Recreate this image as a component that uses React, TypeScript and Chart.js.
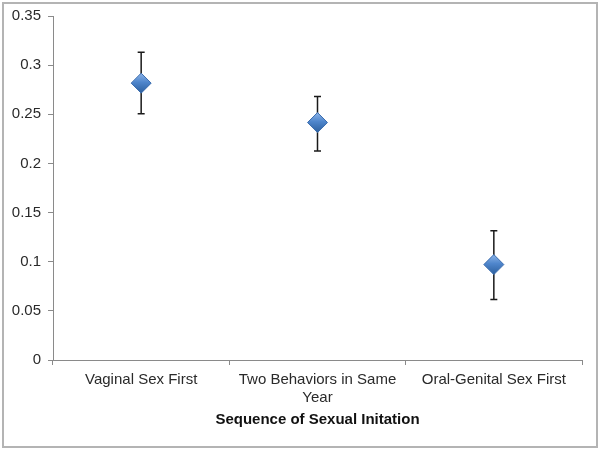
import React, { useEffect, useRef } from "react";
import { Chart, registerables } from "chart.js";

Chart.register(...registerables);

const categories: string[][] = [
  ["Vaginal Sex First"],
  ["Two Behaviors in Same", "Year"],
  ["Oral-Genital Sex First"],
];
const values: number[] = [0.2817, 0.2416, 0.0971];
const upperValues: number[] = [0.3132, 0.2681, 0.1316];
const lowerValues: number[] = [0.2506, 0.2127, 0.0616];
const yMin = 0;
const yMax = 0.35;
const yStep = 0.05;
const xTitle = "Sequence of Sexual Initation";

const FONT = "'Liberation Sans', Arial, sans-serif";

const errorBarPlugin = {
  id: "errorBars",
  beforeDatasetsDraw(chart: any) {
    const { ctx } = chart;
    const meta = chart.getDatasetMeta(0);
    const ys = chart.scales.y;
    ctx.save();
    ctx.strokeStyle = "#1a1a1a";
    ctx.lineWidth = 1.5;
    meta.data.forEach((pt: any, i: number) => {
      const x = pt.x;
      const yt = ys.getPixelForValue(upperValues[i]);
      const yb = ys.getPixelForValue(lowerValues[i]);
      ctx.beginPath();
      ctx.moveTo(x, yt);
      ctx.lineTo(x, yb);
      ctx.moveTo(x - 3.5, yt);
      ctx.lineTo(x + 3.5, yt);
      ctx.moveTo(x - 3.5, yb);
      ctx.lineTo(x + 3.5, yb);
      ctx.stroke();
    });
    ctx.restore();
  },
};

export default function App() {
  const ref = useRef<HTMLCanvasElement | null>(null);
  useEffect(() => {
    if (!ref.current) return;
    const chart = new Chart(ref.current, {
      type: "line",
      data: {
        labels: categories as any,
        datasets: [
          {
            data: values,
            showLine: false,
            pointStyle: "rectRot",
            pointRadius: 10,
            pointHoverRadius: 10,
            borderWidth: 1,
            pointBorderColor: "#3a6cae",
            pointBackgroundColor: (c: any) => {
              const chart = c.chart;
              const ys = chart.scales && chart.scales.y;
              if (!ys || !c.parsed) return "#4f81bd";
              const py = ys.getPixelForValue(c.parsed.y);
              if (!isFinite(py)) return "#4f81bd";
              const g = chart.ctx.createLinearGradient(0, py - 10, 0, py + 10);
              g.addColorStop(0, "#8db4e8");
              g.addColorStop(0.45, "#4f86cc");
              g.addColorStop(1, "#2c5f9e");
              return g;
            },
          } as any,
        ],
      },
      options: {
        animation: false,
        responsive: false,
        maintainAspectRatio: false,
        layout: { padding: { left: 0, right: 19, top: 15, bottom: 0 } },
        plugins: {
          legend: { display: false },
          tooltip: { enabled: false },
          title: { display: false },
        },
        scales: {
          x: {
            type: "category",
            offset: true,
            border: { display: true, color: "#8a8a8a", width: 1 },
            grid: {
              display: true,
              offset: true,
              drawOnChartArea: false,
              drawTicks: true,
              tickLength: 5,
              color: "#8a8a8a",
            },
            ticks: {
              padding: 6,
              color: "#2a2a2a",
              font: { family: FONT, size: 15 },
              maxRotation: 0,
              autoSkip: false,
            },
            title: {
              display: true,
              text: xTitle,
              color: "#111",
              font: { family: FONT, size: 15, weight: "bold" },
              padding: { top: 0, bottom: 23 },
            },
            afterFit: (s: any) => {
              s.height = 92;
            },
          },
          y: {
            min: yMin,
            max: yMax,
            border: { display: true, color: "#8a8a8a", width: 1 },
            grid: {
              display: true,
              drawOnChartArea: false,
              drawTicks: true,
              tickLength: 5,
              color: "#8a8a8a",
            },
            ticks: {
              stepSize: yStep,
              padding: 7,
              color: "#2a2a2a",
              font: { family: FONT, size: 15 },
              callback: (v: any) => String(Math.round(Number(v) * 100) / 100),
            },
            afterFit: (s: any) => {
              s.width = 53;
            },
          },
        },
      },
      plugins: [errorBarPlugin],
    });
    return () => chart.destroy();
  }, []);

  return (
    <div
      style={{
        position: "fixed",
        left: 0,
        top: 0,
        width: 601,
        height: 452,
        background: "#fff",
      }}
    >
      <div
        style={{
          position: "absolute",
          left: 2,
          top: 2,
          width: 592,
          height: 442,
          border: "2px solid #b4b4b4",
        }}
      />
      <canvas
        ref={ref}
        width={601}
        height={452}
        style={{ position: "absolute", left: 0, top: 0, width: 601, height: 452 }}
      />
    </div>
  );
}
